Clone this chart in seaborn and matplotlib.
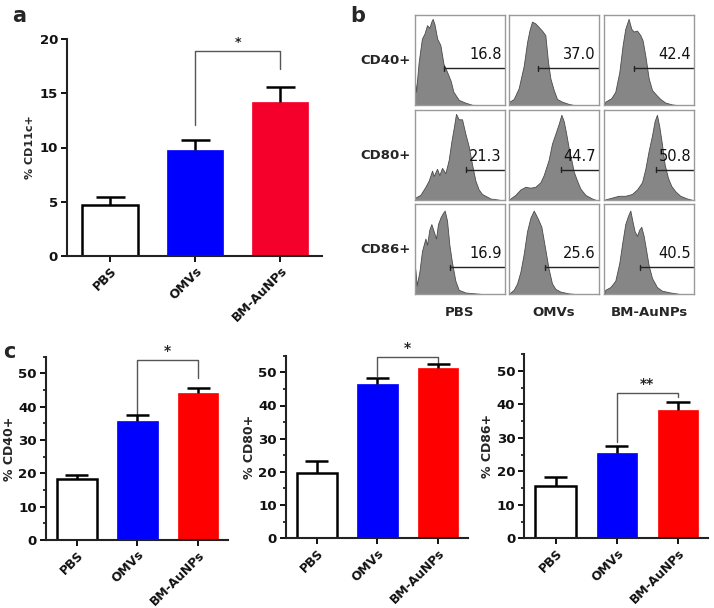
import matplotlib
matplotlib.use('Agg')
import matplotlib.pyplot as plt
import seaborn as sns
import pandas as pd
from matplotlib.ticker import MultipleLocator

# ---- data ----
groups = ['PBS', 'OMVs', 'BM-AuNPs']
bar_colors = ['#ffffff', '#0000ff', '#f5002a']
bar_colors_c = ['#ffffff', '#0000ff', '#ff0000']

cd11c_mean = [4.7, 9.8, 14.2]
cd11c_sem = [0.7, 0.9, 1.4]

cd40_mean = [18.2, 35.8, 44.0]
cd40_sem = [1.3, 1.6, 1.5]
cd80_mean = [19.7, 46.4, 51.4]
cd80_sem = [3.7, 1.8, 1.0]
cd86_mean = [15.7, 25.5, 38.4]
cd86_sem = [2.5, 2.0, 2.2]

# significance bracket: left leg bottom, top, right leg bottom, label
sig_a = [12.1, 18.9, 17.2, '*']
sig_cd40 = [37.7, 54.0, 48.5, '*']
sig_cd80 = [48.8, 54.6, 52.8, '*']
sig_cd86 = [28.8, 43.5, 42.2, '**']

# flow cytometry histograms (fluorescence channel fraction, relative count)
markers = ['CD40+', 'CD80+', 'CD86+']
gate_pct = [['16.8', '37.0', '42.4'],
            ['21.3', '44.7', '50.8'],
            ['16.9', '25.6', '40.5']]
gate_start = [[0.33, 0.326, 0.326],
              [0.574, 0.581, 0.578],
              [0.396, 0.40, 0.40]]
gate_level = [0.41, 0.34, 0.30]

cd40_pbs_x = [0, 0.015, 0.044, 0.08, 0.11, 0.137, 0.163, 0.185, 0.2, 0.22, 0.25, 0.285, 0.32, 0.36,
              0.4, 0.43, 0.49, 0.56, 0.64, 1.0]
cd40_pbs_y = [0.31, 0.15, 0.48, 0.74, 0.80, 0.89, 0.86, 0.93, 0.96, 0.90, 0.74, 0.67, 0.46, 0.37,
              0.27, 0.15, 0.06, 0.03, 0.005, 0]
cd40_omv_x = [0, 0.007, 0.056, 0.111, 0.167, 0.204, 0.23, 0.259, 0.296, 0.333, 0.37, 0.407, 0.437,
              0.463, 0.5, 0.537, 0.593, 0.667, 0.74, 1.0]
cd40_omv_y = [0, 0.04, 0.07, 0.19, 0.44, 0.70, 0.83, 0.93, 0.91, 0.87, 0.83, 0.78, 0.48,
              0.30, 0.17, 0.07, 0.04, 0.015, 0, 0]
cd40_bm_x = [0, 0.011, 0.078, 0.122, 0.167, 0.204, 0.233, 0.27, 0.3, 0.326, 0.363, 0.4, 0.426,
             0.456, 0.493, 0.53, 0.574, 0.622, 0.678, 0.752, 0.826, 1.0]
cd40_bm_y = [0, 0.04, 0.08, 0.15, 0.37, 0.67, 0.85, 0.96, 0.85, 0.82, 0.83, 0.78, 0.72,
             0.55, 0.30, 0.17, 0.12, 0.07, 0.03, 0.01, 0, 0]

cd80_pbs_x = [0, 0.007, 0.063, 0.119, 0.156, 0.193, 0.211, 0.248, 0.274, 0.304, 0.341, 0.378, 0.407,
              0.433, 0.459, 0.489, 0.526, 0.563, 0.6, 0.637, 0.674, 0.711, 0.748, 0.785, 0.841,
              0.915, 0.97, 1.0]
cd80_pbs_y = [0, 0.03, 0.06, 0.15, 0.22, 0.33, 0.27, 0.35, 0.28, 0.36, 0.30, 0.45, 0.65,
              0.80, 0.96, 0.90, 0.90, 0.74, 0.60, 0.40, 0.22, 0.12, 0.07, 0.05, 0.02,
              0.01, 0, 0]
cd80_omv_x = [0, 0.019, 0.074, 0.13, 0.185, 0.241, 0.296, 0.352, 0.389, 0.444, 0.481, 0.519, 0.556,
              0.585, 0.611, 0.637, 0.667, 0.696, 0.722, 0.759, 0.796, 0.852, 0.926, 0.98, 1.0]
cd80_omv_y = [0, 0.02, 0.06, 0.12, 0.15, 0.14, 0.15, 0.20, 0.28, 0.45, 0.63, 0.74, 0.85,
              0.95, 0.88, 0.75, 0.58, 0.45, 0.32, 0.22, 0.13, 0.06, 0.02, 0, 0]
cd80_bm_x = [0, 0.011, 0.085, 0.159, 0.233, 0.307, 0.363, 0.419, 0.456, 0.493, 0.53, 0.559, 0.585,
             0.611, 0.641, 0.67, 0.707, 0.744, 0.789, 0.844, 0.919, 0.993, 1.0]
cd80_bm_y = [0, 0.01, 0.03, 0.05, 0.05, 0.07, 0.12, 0.20, 0.35, 0.55, 0.72, 0.88, 0.95,
             0.82, 0.62, 0.40, 0.25, 0.16, 0.10, 0.05, 0.02, 0, 0]

cd86_pbs_x = [0, 0.007, 0.022, 0.052, 0.081, 0.119, 0.137, 0.163, 0.185, 0.211, 0.237, 0.259, 0.285,
              0.311, 0.333, 0.359, 0.385, 0.415, 0.452, 0.489, 0.563, 0.674, 0.785, 1.0]
cd86_pbs_y = [0.28, 0.28, 0.10, 0.25, 0.48, 0.62, 0.55, 0.72, 0.78, 0.70, 0.62, 0.78, 0.85,
              0.90, 0.93, 0.82, 0.55, 0.35, 0.15, 0.05, 0.02, 0.01, 0, 0]
cd86_omv_x = [0, 0.019, 0.056, 0.093, 0.13, 0.167, 0.204, 0.241, 0.278, 0.304, 0.333, 0.363, 0.389,
              0.415, 0.444, 0.481, 0.519, 0.574, 0.667, 0.778, 1.0]
cd86_omv_y = [0, 0.02, 0.05, 0.12, 0.25, 0.45, 0.70, 0.85, 0.93, 0.88, 0.82, 0.75, 0.60,
              0.45, 0.28, 0.12, 0.06, 0.03, 0.01, 0, 0]
cd86_bm_x = [0, 0.011, 0.067, 0.122, 0.167, 0.204, 0.233, 0.263, 0.289, 0.315, 0.337, 0.363, 0.389,
             0.411, 0.437, 0.463, 0.493, 0.53, 0.585, 0.641, 0.733, 0.863, 1.0]
cd86_bm_y = [0, 0.05, 0.08, 0.15, 0.35, 0.60, 0.78, 0.87, 0.93, 0.80, 0.70, 0.65, 0.72,
             0.75, 0.65, 0.50, 0.32, 0.18, 0.08, 0.04, 0.02, 0, 0]

histograms = [[(cd40_pbs_x, cd40_pbs_y), (cd40_omv_x, cd40_omv_y), (cd40_bm_x, cd40_bm_y)],
              [(cd80_pbs_x, cd80_pbs_y), (cd80_omv_x, cd80_omv_y), (cd80_bm_x, cd80_bm_y)],
              [(cd86_pbs_x, cd86_pbs_y), (cd86_omv_x, cd86_omv_y), (cd86_bm_x, cd86_bm_y)]]

# ---- style ----
sns.set_style('ticks')
plt.rcParams['font.family'] = ['DejaVu Sans']
plt.rcParams['font.weight'] = 'bold'

W, H = 714, 608
fig = plt.figure(figsize=(W / 100, H / 100), dpi=100)


def px_axes(left, top, right, bottom):
    return fig.add_axes([left / W, 1 - bottom / H, (right - left) / W, (bottom - top) / H])


def bar_panel(ax, means, sems, colors, ylabel, ymax, step, sig, tick_fs, lab_fs, cat_fs, cap):
    df = pd.DataFrame({'group': groups, 'value': means})
    sns.barplot(data=df, x='group', y='value', hue='group', palette=colors, width=0.66,
                errorbar=None, legend=False, saturation=1, ax=ax)
    for i, p in enumerate(ax.patches):
        if i == 0:
            p.set_edgecolor('black')
            p.set_linewidth(1.8)
        else:
            p.set_edgecolor(colors[i])
            p.set_linewidth(0.5)
    # upward-only error bars
    for i, (m, s) in enumerate(zip(means, sems)):
        ax.vlines(i, m, m + s, color='black', lw=1.8, zorder=3)
        ax.hlines(m + s, i - cap, i + cap, color='black', lw=1.8, zorder=3)
    # significance bracket between OMVs and BM-AuNPs
    lo1, top, lo2, label = sig
    ax.plot([1, 1, 2, 2], [lo1, top, top, lo2], color='#555555', lw=1.0, clip_on=False)
    ax.text(1.5, top + ymax * 0.01, label, ha='center', va='bottom', fontsize=lab_fs + 1,
            clip_on=False)

    ax.set_xlim(-0.51, 2.49)
    ax.set_ylim(0, ymax)
    ax.yaxis.set_major_locator(MultipleLocator(step))
    ax.set_xlabel('')
    ax.set_ylabel(ylabel, fontsize=lab_fs, fontweight='bold')
    ax.set_xticks(range(len(groups)))
    ax.set_xticklabels(groups, rotation=45, ha='right', rotation_mode='anchor',
                       fontweight='bold', fontsize=cat_fs)
    ax.tick_params(axis='both', direction='out', length=4, width=1.4, colors='#111111')
    ax.tick_params(axis='y', labelsize=tick_fs, pad=2.5)
    ax.tick_params(axis='x', pad=2)
    for side in ['left', 'bottom']:
        ax.spines[side].set_linewidth(1.5)
        ax.spines[side].set_color('#222222')
    sns.despine(ax=ax)


# ---- panel a ----
ax_a = px_axes(67, 39, 322, 256)
bar_panel(ax_a, cd11c_mean, cd11c_sem, bar_colors, '% CD11c+', 20, 5, sig_a, 9.5, 8, 9, 0.17)
ax_a.yaxis.set_label_coords(-0.125, 0.5)

# ---- panel c ----
c_specs = [((45.7, 356.7, 228, 540), cd40_mean, cd40_sem, '% CD40+', sig_cd40, -0.165),
           ((285.7, 355.7, 468, 538.3), cd80_mean, cd80_sem, '% CD80+', sig_cd80, -0.165),
           ((524.3, 354.3, 708, 538.3), cd86_mean, cd86_sem, '% CD86+', sig_cd86, -0.165)]
for box, means, sems, ylab, sig, lab_x in c_specs:
    ax = px_axes(*box)
    bar_panel(ax, means, sems, bar_colors_c, ylab, 55, 10, sig, 9.6, 9, 8.8, 0.19)
    ax.yaxis.set_minor_locator(MultipleLocator(5))
    ax.tick_params(axis='y', which='minor', direction='out', length=2.5, width=1.2, colors='#111111')
    ax.yaxis.set_label_coords(lab_x, 0.5)

# ---- panel b: flow histograms ----
col_x = [(414.7, 504.7), (508.7, 598.7), (604.3, 694.3)]
row_y = [(15.3, 105.3), (110.3, 200.3), (204.3, 294.3)]
for r in range(3):
    for c in range(3):
        ax = px_axes(col_x[c][0], row_y[r][0], col_x[c][1], row_y[r][1])
        hx, hy = histograms[r][c]
        ax.fill_between(hx, hy, 0, color='#868686', edgecolor='#4a4a4a', lw=0.6)
        g0 = gate_start[r][c]
        g = gate_level[r]
        ax.plot([g0, 1], [g, g], color='#222222', lw=1.0)
        ax.plot([g0, g0], [g - 0.025, g + 0.025], color='#222222', lw=1.0)
        ax.text(0.965, g + 0.1, gate_pct[r][c], ha='right', va='baseline',
                fontsize=10.5, fontweight='normal', color='#111111')
        ax.set_xlim(0, 1)
        ax.set_ylim(0, 1)
        ax.set_xticks([])
        ax.set_yticks([])
        for s in ax.spines.values():
            s.set_color('#9a9a9a')
            s.set_linewidth(1.0)
    fig.text(411 / W, 1 - (row_y[r][0] + 45) / H, markers[r], ha='right', va='center',
             fontsize=9.5, fontweight='bold')
for c in range(3):
    fig.text((col_x[c][0] + col_x[c][1]) / 2 / W, 1 - 313 / H, groups[c], ha='center',
             va='center', fontsize=9.5, fontweight='bold')

# panel letters
fig.text(12 / W, 1 - 16 / H, 'a', fontsize=15, fontweight='bold', va='center')
fig.text(350 / W, 1 - 16 / H, 'b', fontsize=15, fontweight='bold', va='center')
fig.text(3 / W, 1 - 352 / H, 'c', fontsize=15, fontweight='bold', va='center')

fig.savefig('out.png', dpi=100)
